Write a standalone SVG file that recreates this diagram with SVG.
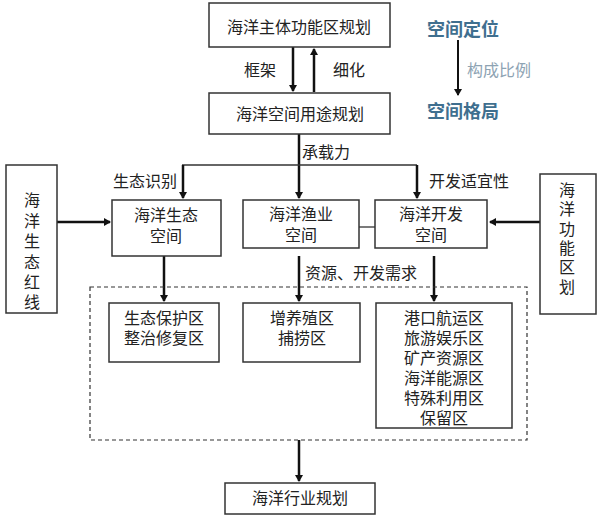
<svg xmlns="http://www.w3.org/2000/svg" width="599" height="519" viewBox="0 0 599 519">
<style>
.box{fill:#fff;stroke:#333;stroke-width:1.5}
.t{font-family:"Liberation Sans","Noto Sans CJK SC",sans-serif;font-size:16px;fill:#222;text-anchor:middle;dominant-baseline:central}
.l{font-family:"Liberation Sans","Noto Sans CJK SC",sans-serif;font-size:16px;fill:#222;dominant-baseline:central}
.blue{font-family:"Liberation Sans","Noto Sans CJK SC",sans-serif;font-size:18px;font-weight:bold;fill:#3f6f8f;text-anchor:middle;dominant-baseline:central}
.gray{font-family:"Liberation Sans","Noto Sans CJK SC",sans-serif;font-size:16px;fill:#8ea3b3;dominant-baseline:central}
.ln{stroke:#111;stroke-width:2.5;fill:none}
.thin{stroke:#333;stroke-width:1.3;fill:none}
</style>
<defs>
<marker id="ah" markerWidth="8" markerHeight="8" refX="6" refY="4" orient="auto" markerUnits="userSpaceOnUse" viewBox="0 0 8 8">
<path d="M0,0 L7,4 L0,8 Z" fill="#111"/>
</marker>
</defs>

<g id="connectors">
<line class="ln" x1="293" y1="47" x2="293" y2="91" marker-end="url(#ah)"/>
<line class="ln" x1="314" y1="92" x2="314" y2="49" marker-end="url(#ah)"/>
<line class="ln" x1="458" y1="40" x2="458" y2="95" marker-end="url(#ah)" style="stroke-width:2"/>
<line class="ln" x1="299" y1="134" x2="299" y2="198" marker-end="url(#ah)"/>
<line class="thin" x1="182" y1="165" x2="417" y2="165"/>
<line class="ln" x1="183" y1="165" x2="183" y2="198" marker-end="url(#ah)"/>
<line class="ln" x1="417" y1="165" x2="417" y2="198" marker-end="url(#ah)"/>
<line class="ln" x1="57" y1="222" x2="110" y2="222" marker-end="url(#ah)"/>
<line class="ln" x1="540" y1="222" x2="490" y2="222" marker-end="url(#ah)"/>
<line class="thin" x1="359" y1="227" x2="375" y2="227"/>
<line class="ln" x1="164" y1="256" x2="164" y2="301" marker-end="url(#ah)"/>
<line class="ln" x1="299" y1="256" x2="299" y2="301" marker-end="url(#ah)"/>
<line class="ln" x1="434" y1="256" x2="434" y2="301" marker-end="url(#ah)"/>
<line class="ln" x1="299" y1="440" x2="299" y2="481" marker-end="url(#ah)"/>
<rect x="90" y="287" width="437" height="153" fill="none" stroke="#333" stroke-width="1.2" stroke-dasharray="4,3"/>
</g>

<g id="labels">
<text class="t" x="260" y="70">框架</text>
<text class="t" x="349" y="70">细化</text>
<text class="l" x="302" y="152">承载力</text>
<text class="t" x="145" y="181">生态识别</text>
<text class="t" x="469" y="181">开发适宜性</text>
<text class="l" x="305" y="273">资源、开发需求</text>
<text class="gray" x="467" y="70">构成比例</text>
</g>

<g id="n-zhuti"><rect class="box" x="209" y="3" width="181" height="44"/><text class="t" x="299" y="27" style="font-size:16px">海洋主体功能区规划</text></g>
<g id="n-yongtu"><rect class="box" x="209" y="93" width="181" height="41"/><text class="t" x="300" y="114" style="font-size:16px">海洋空间用途规划</text></g>
<g id="n-dingwei"><text class="blue" x="463" y="30">空间定位</text></g>
<g id="n-geju"><text class="blue" x="463" y="112">空间格局</text></g>
<g id="n-hongxian"><rect class="box" x="6" y="165" width="51" height="148"/>
<text class="t" x="32" y="200">海</text><text class="t" x="32" y="221">洋</text><text class="t" x="32" y="241">生</text><text class="t" x="32" y="262">态</text><text class="t" x="32" y="282">红</text><text class="t" x="32" y="302">线</text></g>
<g id="n-quhua"><rect class="box" x="540" y="174" width="56" height="140"/>
<text class="t" x="567" y="190">海</text><text class="t" x="567" y="209">洋</text><text class="t" x="567" y="229">功</text><text class="t" x="567" y="248">能</text><text class="t" x="567" y="267">区</text><text class="t" x="567" y="287">划</text></g>
<g id="n-shengtai"><rect class="box" x="112" y="200" width="109" height="56"/><text class="t" x="166" y="215">海洋生态</text><text class="t" x="166" y="236">空间</text></g>
<g id="n-yuye"><rect class="box" x="243" y="200" width="116" height="48"/><text class="t" x="301" y="214">海洋渔业</text><text class="t" x="301" y="235">空间</text></g>
<g id="n-kaifa"><rect class="box" x="375" y="200" width="112" height="48"/><text class="t" x="431" y="214">海洋开发</text><text class="t" x="431" y="235">空间</text></g>
<g id="n-baohu"><rect class="box" x="109" y="303" width="110" height="59"/><text class="t" x="164" y="318">生态保护区</text><text class="t" x="164" y="338">整治修复区</text></g>
<g id="n-yangzhi"><rect class="box" x="243" y="303" width="117" height="59"/><text class="t" x="302" y="318">增养殖区</text><text class="t" x="302" y="338">捕捞区</text></g>
<g id="n-gangkou"><rect class="box" x="376" y="303" width="136" height="125"/>
<text class="t" x="444" y="318">港口航运区</text><text class="t" x="444" y="338">旅游娱乐区</text><text class="t" x="444" y="358">矿产资源区</text><text class="t" x="444" y="378">海洋能源区</text><text class="t" x="444" y="398">特殊利用区</text><text class="t" x="444" y="418">保留区</text></g>
<g id="n-hangye"><rect class="box" x="225" y="483" width="150" height="31"/><text class="t" x="300" y="498" style="font-size:16px">海洋行业规划</text></g>
</svg>
